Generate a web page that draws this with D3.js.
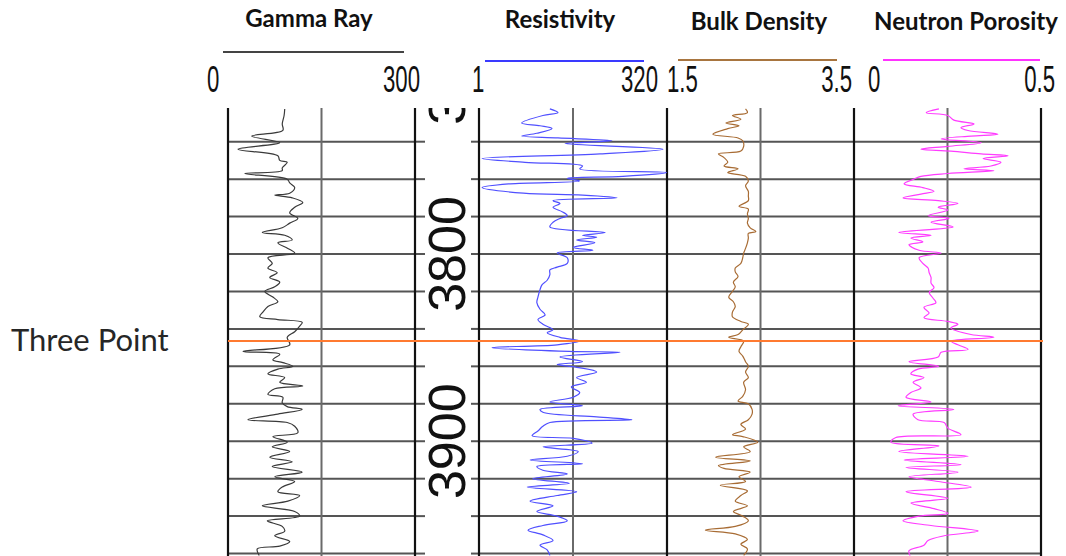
<!DOCTYPE html>
<html>
<head>
<meta charset="utf-8">
<script src="https://cdn.jsdelivr.net/npm/d3@7"></script>
<style>
	body { margin: 0; background: #fff; }
	svg { display: block; }
</style>
</head>
<body>
<svg id="chart"></svg>
<script>
// log readings as [depth (m), value]
var gammaRay = [
	[3722.5, 91], [3726, 90], [3730.5, 87], [3734, 88], [3737, 38], [3740.5, 83], [3744, 16], [3747.5, 80],
	[3750, 83], [3751, 95], [3754, 87], [3755.5, 87], [3757, 27], [3760, 95], [3762, 99], [3764.5, 107],
	[3767.5, 99], [3768.5, 75], [3770, 103], [3772.5, 120], [3775, 107], [3778, 99], [3781, 112], [3783.5, 99],
	[3786, 87], [3788.5, 55], [3790, 91], [3792.5, 103], [3794, 80], [3797, 96], [3799.5, 107], [3802, 64],
	[3805, 71], [3807.5, 64], [3810, 79], [3812.5, 67], [3815, 83], [3817.5, 75], [3820, 59], [3823, 72],
	[3825.5, 80], [3828, 64], [3831, 56], [3833.5, 51], [3835, 80], [3836.5, 119], [3838.5, 115], [3841.5, 107],
	[3844.5, 95], [3848.5, 99], [3852, 24], [3853.5, 83], [3856.5, 72], [3858, 88], [3860, 104], [3861.5, 80],
	[3864, 64], [3866, 91], [3868.5, 83], [3870.5, 120], [3872, 75], [3875, 64], [3876.5, 88], [3879.5, 87],
	[3881.5, 95], [3883, 119], [3885.5, 80], [3888.5, 32], [3890, 95], [3892, 107], [3895.5, 112], [3897.5, 72],
	[3900.5, 95], [3903, 71], [3905.5, 99], [3908.5, 67], [3911, 103], [3913.5, 71], [3916.5, 119], [3919, 75],
	[3921.5, 107], [3924.5, 87], [3927, 80], [3929, 115], [3932, 96], [3934.5, 55], [3937.5, 107], [3940, 115],
	[3942.5, 63], [3945.5, 87], [3948, 91], [3950.5, 75], [3953.5, 99], [3956, 83], [3957.5, 47], [3961, 50]
];

var resistivity = [
	[3722.5, 8.8], [3724.5, 11.3], [3726, 7.1], [3730, 3.7], [3731.5, 6.5], [3733, 9.4], [3735.5, 5.9], [3737, 3.7],
	[3738, 11.3], [3739.5, 59], [3741, 14], [3744, 283], [3746.5, 41], [3749, 1.1], [3751, 4.1], [3753, 24],
	[3754.5, 22], [3756.5, 315], [3758.5, 83], [3759.5, 15], [3761, 22], [3762.5, 2.6], [3764.5, 1.1], [3767.5, 3.9],
	[3768.5, 24], [3770, 69], [3771.5, 9.7], [3773, 12], [3775, 9.7], [3777.5, 13], [3779.5, 15], [3781, 12],
	[3783, 9.7], [3785.5, 8.8], [3788.5, 48], [3790, 24], [3791, 37], [3792.5, 20], [3794, 35], [3796.5, 18],
	[3798, 33], [3799.5, 11], [3802, 15], [3805, 15], [3807, 11], [3808.5, 8.8], [3811, 8.8], [3814, 8.1],
	[3816.5, 6.9], [3819, 6.5], [3823, 6.1], [3826, 5.9], [3829.5, 6.5], [3832.5, 7.6], [3835, 6.1], [3837.5, 7.1],
	[3840.5, 9.7], [3842, 8.1], [3844.5, 12], [3846.5, 22], [3848.5, 11], [3850, 1.5], [3852, 16], [3852.5, 76],
	[3855, 12], [3857.5, 24], [3859, 11], [3860.5, 20], [3863, 37], [3866, 20], [3868.5, 27], [3871, 17],
	[3874, 22], [3876.5, 18], [3879, 8.8], [3881, 24], [3883, 6.5], [3884.5, 7.1], [3887, 37], [3888.5, 109],
	[3890, 8.8], [3892, 7.1], [3894.5, 6.1], [3897, 5.1], [3898.5, 18], [3901, 32], [3903, 7.1], [3905.5, 21],
	[3908, 15], [3910, 4.8], [3912, 24], [3913.5, 5.9], [3915.5, 7.1], [3917.5, 15], [3920, 5.2], [3922.5, 16],
	[3924.5, 4.4], [3927, 20], [3929, 11], [3932, 4.8], [3934.5, 9.7], [3937.5, 5.9], [3940, 11], [3942.5, 15],
	[3945, 7.1], [3947.5, 4.5], [3950, 7.1], [3953, 9.7], [3955.5, 6.5], [3958, 8.1], [3961, 8.8]
];

var bulkDensity = [
	[3722.5, 2.34], [3724.5, 2.36], [3726, 2.20], [3728, 2.29], [3730, 2.13], [3731.5, 2.27], [3733, 2.15], [3736, 1.99],
	[3738, 2.26], [3739.5, 2.31], [3742.5, 2.32], [3745, 2.29], [3746.5, 2.05], [3748.5, 2.11], [3751, 2.15], [3753, 2.11],
	[3754.5, 2.26], [3756.5, 2.15], [3758.5, 2.34], [3761, 2.37], [3763.5, 2.34], [3766.5, 2.37], [3769, 2.37], [3771.5, 2.37],
	[3774.5, 2.27], [3776, 2.37], [3778.5, 2.36], [3781, 2.37], [3783.5, 2.36], [3786, 2.39], [3788, 2.45], [3789, 2.37],
	[3791.5, 2.37], [3794, 2.36], [3797, 2.34], [3799.5, 2.32], [3802, 2.31], [3805, 2.29], [3807.5, 2.23], [3809.5, 2.23],
	[3812, 2.26], [3815, 2.21], [3817.5, 2.23], [3820, 2.20], [3823, 2.16], [3825.5, 2.21], [3828, 2.23], [3831, 2.20],
	[3833.5, 2.20], [3836, 2.29], [3837.5, 2.37], [3840.5, 2.31], [3843, 2.26], [3844.5, 2.16], [3846.5, 2.32], [3849.5, 2.29],
	[3852, 2.27], [3854.5, 2.31], [3857.5, 2.34], [3860, 2.37], [3863, 2.34], [3866, 2.37], [3868.5, 2.32], [3872.5, 2.34],
	[3876, 2.31], [3878.5, 2.26], [3880, 2.37], [3883, 2.41], [3885.5, 2.41], [3888.5, 2.37], [3891, 2.29], [3893.5, 2.34],
	[3896.5, 2.20], [3897.5, 2.31], [3900.5, 2.47], [3903, 2.32], [3905.5, 2.39], [3908.5, 2.02], [3910.5, 2.39], [3913, 2.05],
	[3914.5, 2.11], [3916.5, 2.39], [3919, 2.27], [3921.5, 2.34], [3923.5, 2.07], [3926.5, 2.36], [3929, 2.29], [3932, 2.23],
	[3934.5, 2.36], [3937.5, 2.21], [3940, 2.31], [3942.5, 2.37], [3945.5, 2.23], [3947.5, 1.91], [3949.5, 2.23], [3952.5, 2.36],
	[3955, 2.29], [3957.5, 2.36], [3961, 2.32]
];

var neutronPorosity = [
	[3722.5, 0.227], [3724.5, 0.193], [3726, 0.251], [3728.5, 0.267], [3730.5, 0.321], [3732.5, 0.286], [3734, 0.305], [3736, 0.385],
	[3737, 0.313], [3738.5, 0.233], [3740.5, 0.340], [3742.5, 0.251], [3744, 0.179], [3745, 0.259], [3746.5, 0.340], [3747.5, 0.412],
	[3749, 0.345], [3751, 0.393], [3753, 0.366], [3754.5, 0.294], [3755.5, 0.374], [3757, 0.251], [3758.5, 0.179], [3760, 0.160],
	[3762.5, 0.134], [3764.5, 0.184], [3766.5, 0.214], [3768, 0.179], [3770, 0.131], [3771.5, 0.225], [3773, 0.278], [3775, 0.225],
	[3776.5, 0.251], [3779.5, 0.198], [3781, 0.254], [3783, 0.206], [3785.5, 0.265], [3788.5, 0.120], [3790, 0.206], [3791.5, 0.152],
	[3793.5, 0.184], [3795, 0.147], [3798, 0.174], [3799.5, 0.233], [3802, 0.174], [3805, 0.184], [3807.5, 0.198], [3810, 0.201],
	[3812.5, 0.206], [3815.5, 0.206], [3818, 0.214], [3820.5, 0.201], [3823.5, 0.211], [3826, 0.219], [3828.5, 0.187], [3831.5, 0.201],
	[3834, 0.187], [3836, 0.251], [3837.5, 0.278], [3839.5, 0.259], [3843, 0.313], [3844.5, 0.374], [3846.5, 0.259], [3848.5, 0.278],
	[3851, 0.305], [3852.5, 0.233], [3855, 0.225], [3857.5, 0.147], [3860, 0.227], [3861.5, 0.171], [3864, 0.152], [3866, 0.187],
	[3868.5, 0.158], [3871.5, 0.179], [3874, 0.152], [3876.5, 0.139], [3879, 0.206], [3881, 0.118], [3883, 0.267], [3885.5, 0.158],
	[3888.5, 0.171], [3890, 0.241], [3893, 0.251], [3896.5, 0.286], [3898, 0.112], [3900.5, 0.099], [3902.5, 0.227], [3905.5, 0.120],
	[3908, 0.305], [3910, 0.134], [3912.5, 0.286], [3914, 0.139], [3916.5, 0.278], [3919, 0.147], [3921.5, 0.225], [3924.5, 0.313],
	[3927, 0.139], [3930.5, 0.251], [3933, 0.152], [3936, 0.214], [3938.5, 0.251], [3940, 0.174], [3942.5, 0.131], [3945, 0.206],
	[3948, 0.332], [3950.5, 0.241], [3953, 0.198], [3955.5, 0.187], [3958.5, 0.147], [3961, 0.150]
];

var trackNames = ['Gamma Ray', 'Resistivity', 'Bulk Density', 'Neutron Porosity'];
var trackDomains = [[0, 300], [1, 320], [1.5, 3.5], [0, 0.5]];
var scaleLabels = [['0', '300'], ['1', '320'], ['1.5', '3.5'], ['0', '0.5']];
var depthLabels = [3700, 3800, 3900];
var markerName = 'Three Point';
var markerDepth = 3846.5;

var width = 1066, height = 556;
var plotTop = 108;

// layout of the four curve tracks
var tracks = [
	{ data: gammaRay, x0: 228, x1: 415, log: false, color: '#3a3a3a',
		titleX: 309, titleY: 27, keyX: [223, 404], keyY: 52, keyColor: '#444', labX: [207, 420] },
	{ data: resistivity, x0: 479, x1: 667, log: true, color: '#5050ff',
		titleX: 560, titleY: 28, keyX: [485, 644], keyY: 61, keyColor: '#3a3aff', labX: [472, 658] },
	{ data: bulkDensity, x0: 667, x1: 854, log: false, color: '#a86c34',
		titleX: 759, titleY: 30, keyX: [678, 837], keyY: 60, keyColor: '#a8753f', labX: [667, 852] },
	{ data: neutronPorosity, x0: 854, x1: 1041, log: false, color: '#ff3cff',
		titleX: 966, titleY: 30, keyX: [883, 1040], keyY: 60, keyColor: '#ff33ff', labX: [868, 1055] }
];
var depthTrack = { x0: 415, x1: 479 };

var chart = d3.select('#chart')
	.attr('width', width)
	.attr('height', height);

var y = d3.scaleLinear()
	.domain([3722, 3961.3])
	.range([plotTop, 556]);

var gridDepths = d3.range(3740, 3961, 20);

tracks.forEach(function(t, i) {
	t.x = (t.log ? d3.scaleLog() : d3.scaleLinear())
		.domain(trackDomains[i])
		.range([t.x0, t.x1]);
});

var defs = chart.append('defs');
tracks.concat([depthTrack]).forEach(function(t, i) {
	defs.append('clipPath')
		.attr('id', 'clip' + i)
		.append('rect')
		.attr('x', t.x0)
		.attr('y', plotTop)
		.attr('width', t.x1 - t.x0)
		.attr('height', height - plotTop);
});

// headers
var header = chart.append('g');
tracks.forEach(function(t, i) {
	header.append('text')
		.attr('x', t.titleX)
		.attr('y', t.titleY)
		.attr('text-anchor', 'middle')
		.style('font-family', 'Lato, "Open Sans", sans-serif')
		.style('font-weight', 'bold')
		.style('font-size', '24px')
		.style('fill', '#111')
		.text(trackNames[i]);

	header.append('line')
		.attr('x1', t.keyX[0])
		.attr('x2', t.keyX[1])
		.attr('y1', t.keyY)
		.attr('y2', t.keyY)
		.style('stroke', t.keyColor)
		.style('stroke-width', 2);

	scaleLabels[i].forEach(function(s, j) {
		header.append('text')
			.attr('transform', 'translate(' + t.labX[j] + ',92) scale(0.6,1)')
			.attr('text-anchor', j === 0 ? 'start' : 'end')
			.style('font-family', '"Liberation Sans", Arial, sans-serif')
			.style('font-size', '37px')
			.style('fill', '#111')
			.text(s);
	});
});

// grid
var grid = chart.append('g');
tracks.forEach(function(t) {
	grid.selectAll(null)
		.data(gridDepths)
		.enter()
		.append('line')
		.attr('x1', t.x0)
		.attr('x2', t.x1)
		.attr('y1', function(d) { return y(d); })
		.attr('y2', function(d) { return y(d); })
		.style('stroke', '#555')
		.style('stroke-width', 2);

	grid.append('line')
		.attr('x1', (t.x0 + t.x1) / 2)
		.attr('x2', (t.x0 + t.x1) / 2)
		.attr('y1', plotTop)
		.attr('y2', height)
		.style('stroke', '#6a6a6a')
		.style('stroke-width', 2);
});

[[depthTrack.x0, depthTrack.x0 + 10], [depthTrack.x1 - 8, depthTrack.x1]].forEach(function(span) {
	grid.selectAll(null)
		.data(gridDepths)
		.enter()
		.append('line')
		.attr('x1', span[0])
		.attr('x2', span[1])
		.attr('y1', function(d) { return y(d); })
		.attr('y2', function(d) { return y(d); })
		.style('stroke', '#555')
		.style('stroke-width', 2);
});

var borders = [228, 415, 479, 667, 854, 1041];
grid.selectAll(null)
	.data(borders)
	.enter()
	.append('line')
	.attr('x1', function(d) { return d; })
	.attr('x2', function(d) { return d; })
	.attr('y1', plotTop)
	.attr('y2', height)
	.style('stroke', '#111')
	.style('stroke-width', 2.2);

// depth numbers
chart.append('g')
	.attr('clip-path', 'url(#clip4)')
	.selectAll('text')
	.data(depthLabels)
	.enter()
	.append('text')
	.attr('transform', function(d) {
		return 'translate(465,' + y(d) + ') rotate(-90)';
	})
	.attr('text-anchor', 'middle')
	.style('font-family', '"Liberation Sans", Arial, sans-serif')
	.style('font-size', '52px')
	.style('fill', '#111')
	.text(function(d) { return d; });

// curves
tracks.forEach(function(t, i) {
	var line = d3.line()
		.curve(d3.curveCatmullRom.alpha(0.5))
		.x(function(d) { return t.x(d[1]); })
		.y(function(d) { return y(d[0]); });

	chart.append('path')
		.datum(t.data)
		.attr('clip-path', 'url(#clip' + i + ')')
		.attr('d', line)
		.style('fill', 'none')
		.style('stroke', t.color)
		.style('stroke-width', 1.2)
		.style('stroke-linejoin', 'round');
});

// formation top
chart.append('line')
	.attr('x1', 228)
	.attr('x2', 1043)
	.attr('y1', y(markerDepth))
	.attr('y2', y(markerDepth))
	.style('stroke', '#ff7a30')
	.style('stroke-width', 2);

chart.append('text')
	.attr('x', 11)
	.attr('y', y(markerDepth) + 10)
	.style('font-family', 'Lato, "Open Sans", sans-serif')
	.style('font-size', '31px')
	.style('fill', '#262626')
	.text(markerName);
</script>
</body>
</html>
